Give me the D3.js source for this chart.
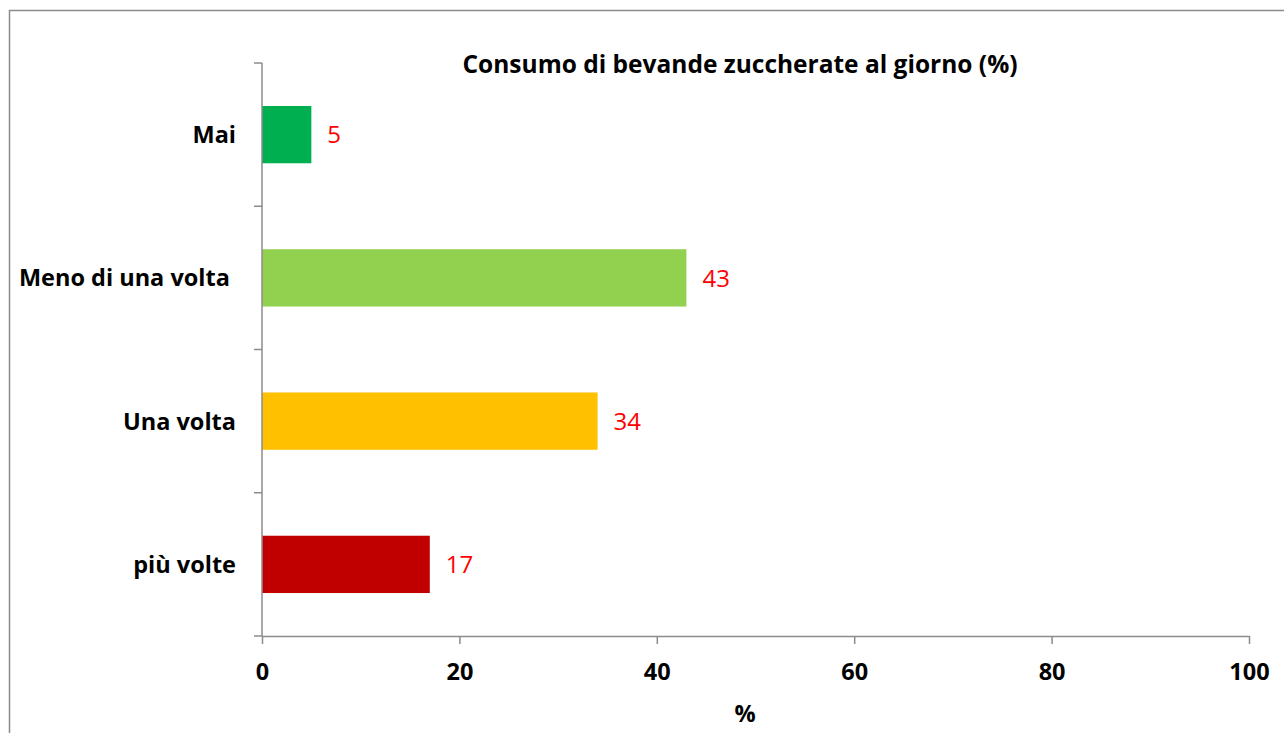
<!DOCTYPE html>
<html><head><meta charset="utf-8">
<script src="https://cdn.jsdelivr.net/npm/d3@7"></script>
<style>body{margin:0;background:#fff;} svg{display:block;}</style>
</head><body>
<svg id="c" width="1284" height="733"></svg>
<script>
const categories = ["Mai", "Meno di una volta ", "Una volta", "più volte"];
const values = [5, 43, 34, 17];
const colors = ["#00B050", "#92D050", "#FFC000", "#C00000"];
const xTicks = [0, 20, 40, 60, 80, 100];
const title = "Consumo di bevande zuccherate al giorno (%)";
const xTitle = "%";

(function () {
const svg = d3.select("#c");
const font = "'Open Sans', 'Noto Sans', sans-serif";
svg.append("rect").attr("x", 9.5).attr("y", 10.5).attr("width", 1290).attr("height", 740)
  .attr("fill", "#fff").attr("stroke", "#8c8c8c").attr("stroke-width", 1.5);

const mLeft = 262, mRight = 1249, mTop = 63, mBottom = 636;
const x = d3.scaleLinear().domain([0, 100]).range([mLeft, mRight]);
const y = d3.scaleBand().domain(categories).range([mTop, mBottom]).paddingInner(0.6).paddingOuter(0.3);

svg.selectAll("rect.bar").data(values).join("rect").attr("class", "bar")
  .attr("x", x(0)).attr("y", (d, i) => y(categories[i]))
  .attr("width", d => x(d) - x(0)).attr("height", y.bandwidth())
  .attr("fill", (d, i) => colors[i]);

const axisColor = "#8c8c8c";
svg.append("line").attr("x1", mLeft).attr("x2", mLeft).attr("y1", mTop).attr("y2", mBottom)
  .attr("stroke", axisColor).attr("stroke-width", 1.5);
const step = (mBottom - mTop) / categories.length;
d3.range(categories.length + 1).forEach(i => {
  svg.append("line").attr("x1", mLeft - 8).attr("x2", mLeft).attr("y1", mTop + i * step).attr("y2", mTop + i * step)
    .attr("stroke", axisColor).attr("stroke-width", 1.5);
});

const xAxis = d3.axisBottom(x).tickValues(xTicks).tickSize(8).tickPadding(19).tickSizeOuter(0);
const gx = svg.append("g").attr("transform", `translate(0,${mBottom})`).call(xAxis);
gx.select(".domain").attr("stroke", axisColor).attr("stroke-width", 1.5);
gx.selectAll(".tick line").attr("stroke", axisColor).attr("stroke-width", 1.5);
gx.selectAll(".tick text").attr("font-family", font).attr("font-size", 23.5).attr("font-weight", "bold").attr("fill", "#000");

svg.selectAll("text.cat").data(categories).join("text").attr("class", "cat")
  .attr("x", 236).attr("y", d => y(d) + y.bandwidth() / 2).attr("dy", "0.36em")
  .attr("text-anchor", "end").attr("font-family", font).attr("font-size", 23.5).attr("font-weight", "bold")
  .attr("xml:space", "preserve").style("white-space", "pre")
  .text(d => d);

svg.selectAll("text.val").data(values).join("text").attr("class", "val")
  .attr("x", d => x(d) + 16).attr("y", (d, i) => y(categories[i]) + y.bandwidth() / 2).attr("dy", "0.36em")
  .attr("font-family", font).attr("font-size", 24).attr("fill", "#FF0000").text(d => d);

svg.append("text").attr("x", 740).attr("y", 73).attr("text-anchor", "middle")
  .attr("font-family", font).attr("font-size", 24.5).attr("font-weight", "bold").text(title);
svg.append("text").attr("x", 745).attr("y", 722).attr("text-anchor", "middle")
  .attr("font-family", font).attr("font-size", 23.5).attr("font-weight", "bold").text(xTitle);
})();
</script>
</body></html>
